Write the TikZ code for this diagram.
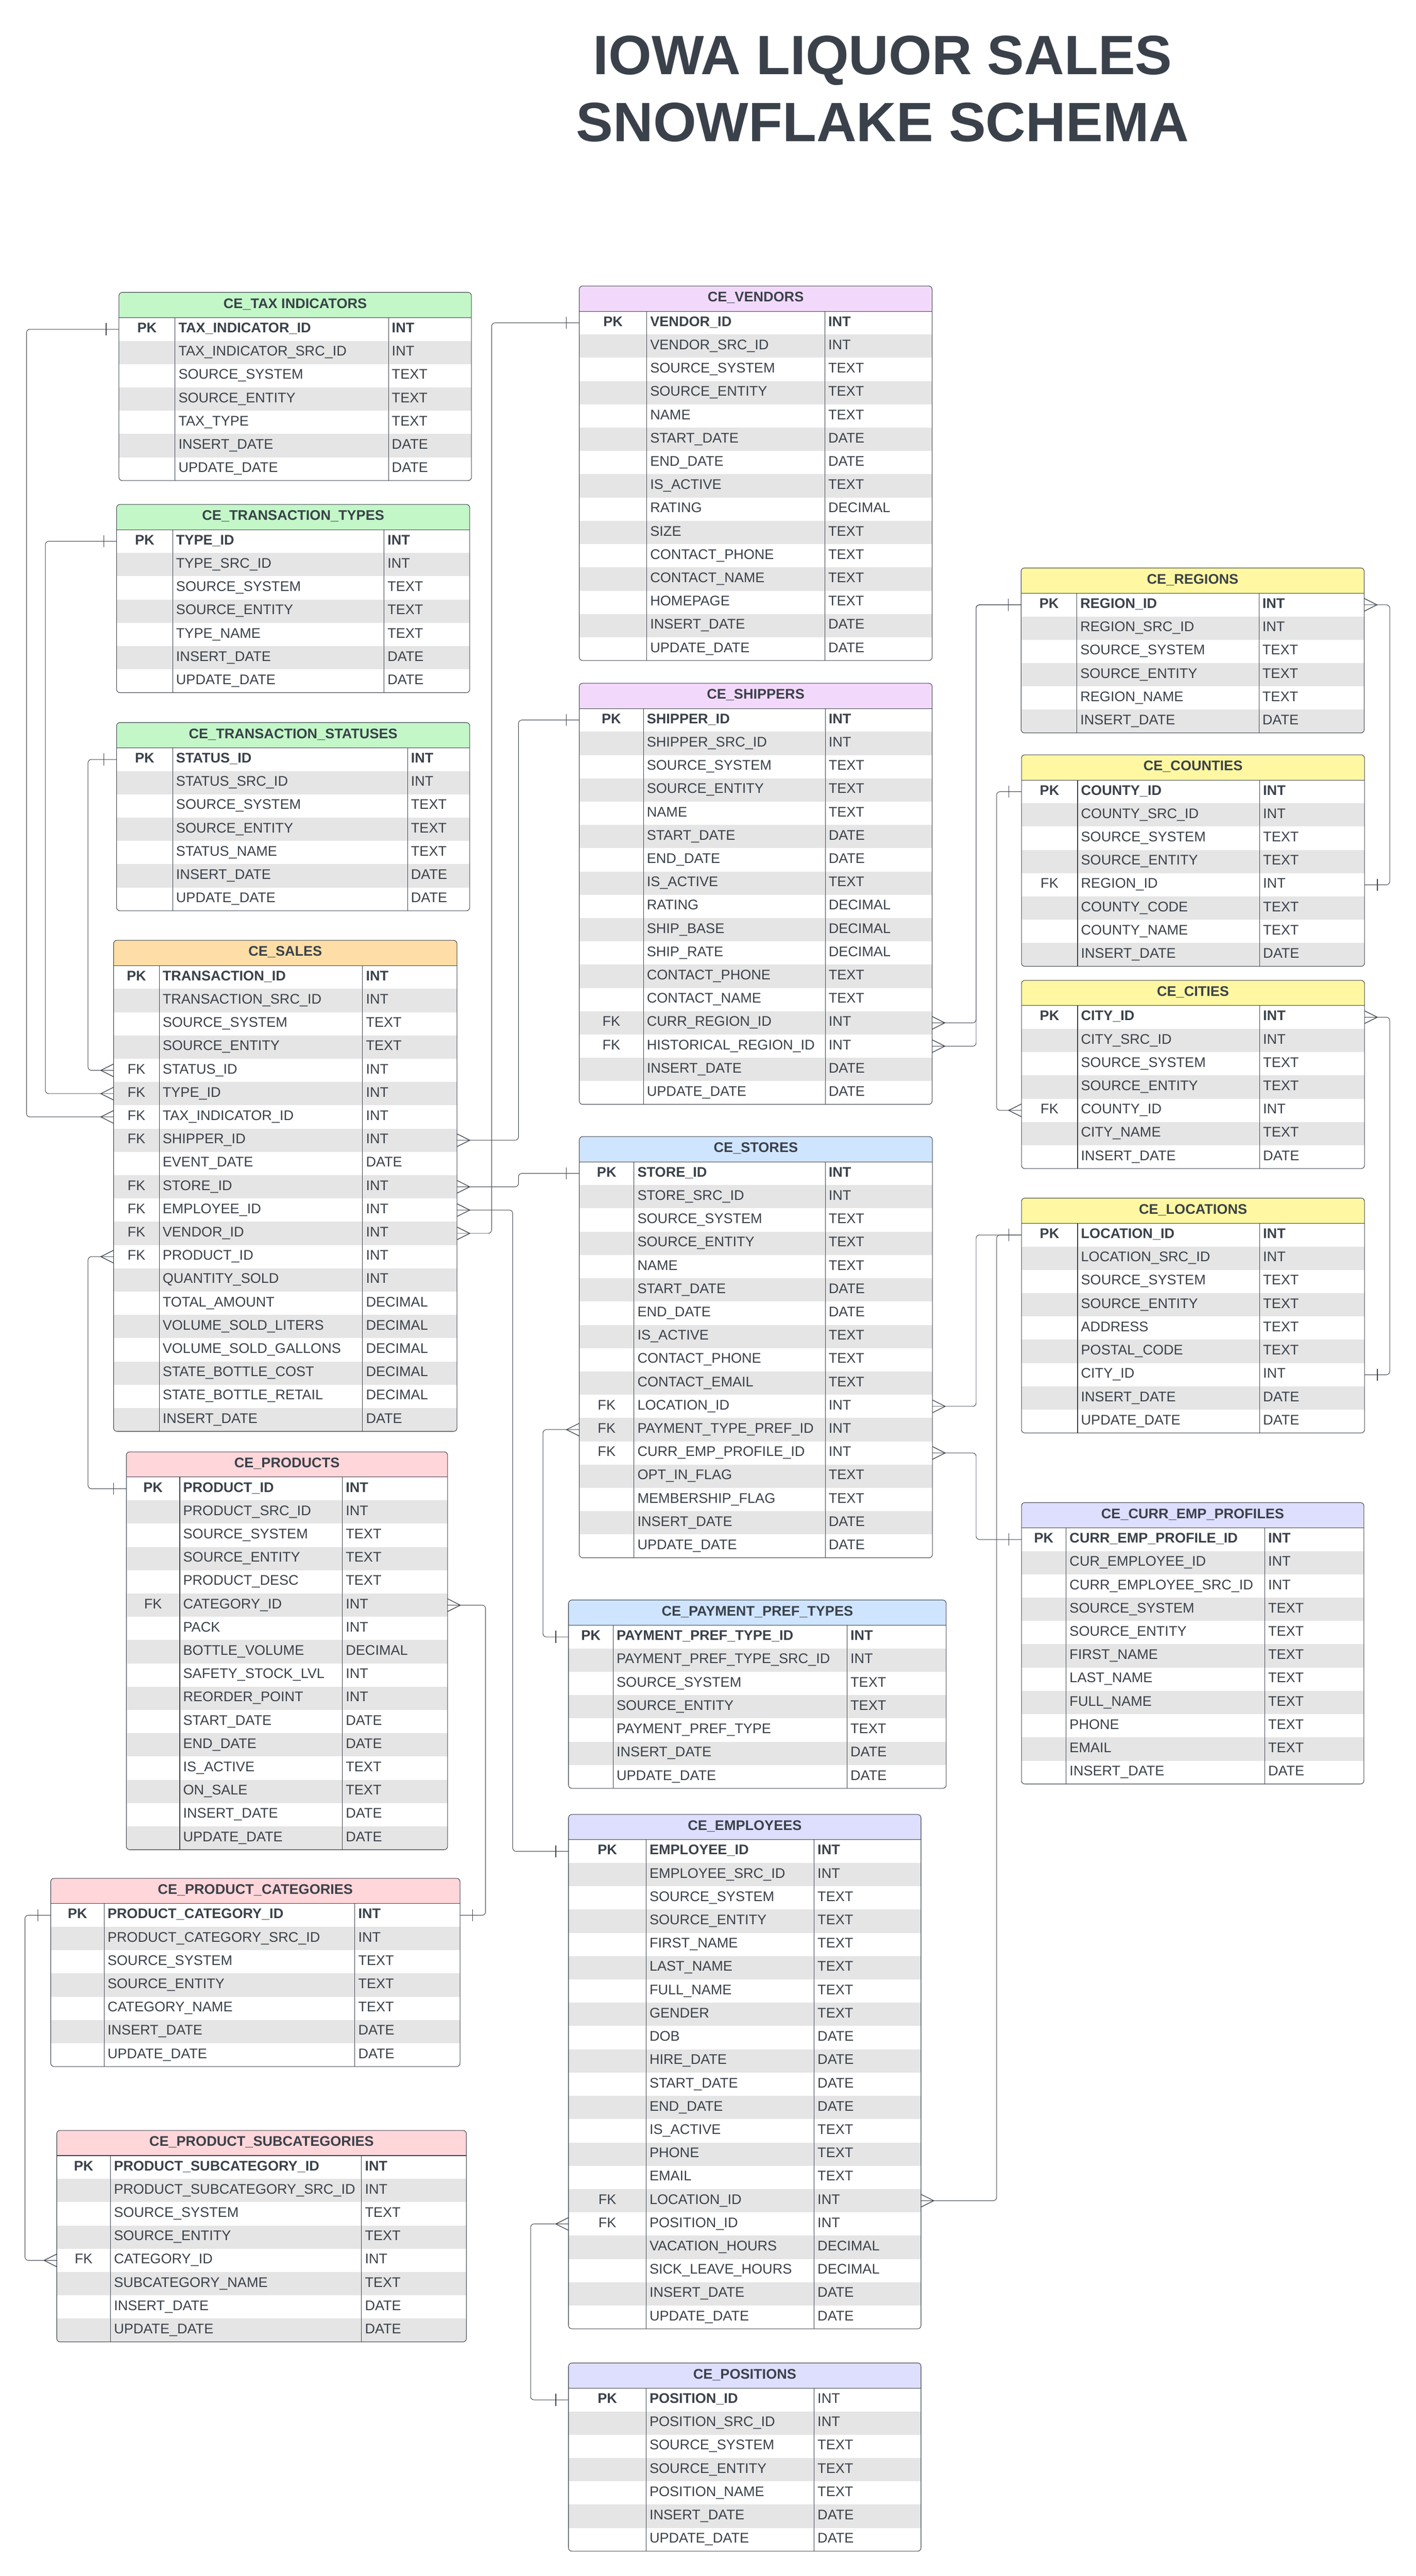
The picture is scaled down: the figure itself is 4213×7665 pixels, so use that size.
\documentclass[tikz,border=0pt]{standalone}
\usepackage{fontspec}
\setmainfont{Liberation Sans}
\usetikzlibrary{calc}
\definecolor{ink}{HTML}{3A414A}
\definecolor{rowgray}{HTML}{E5E5E5}
\definecolor{hgreen}{HTML}{C3F7C8}
\definecolor{horange}{HTML}{FFDDA6}
\definecolor{hpink}{HTML}{FFD6D9}
\definecolor{hpurple}{HTML}{F2D9FB}
\definecolor{hblue}{HTML}{CFE4FF}
\definecolor{hyellow}{HTML}{FFF7A1}
\definecolor{hlav}{HTML}{DEDEFF}
\tikzset{
  tblline/.style={draw=ink, line width=1.6pt},
  celltext/.style={inner sep=0pt, text=ink, font=\fontsize{41.5}{41.5}\selectfont},
  hdrtext/.style={inner sep=0pt, text=ink, anchor=base, font=\fontsize{41.5}{41.5}\selectfont\bfseries},
  titletext/.style={inner sep=0pt, text=ink, anchor=base, font=\fontsize{165}{165}\selectfont\bfseries},
  conn/.style={draw=ink, line width=1.5pt, rounded corners=10pt},
  endmark/.style={draw=ink, line width=2pt},
}
\def\rowh{69.3}
\def\baseoff{10}
% #1 id, #2 left, #3 right, #4 top, #5 key divider, #6 type divider, #7 colour, #8 title, #9 rows
\newcommand{\ertable}[9]{%
  \foreach \erq [count=\erc] in {#9} {\xdef\ernrows{\erc}}%
  \pgfmathsetmacro{\erHB}{#4+75}%
  \pgfmathsetmacro{\erB}{\erHB+\ernrows*\rowh}%
  \begin{scope}
    \clip[rounded corners=10pt] (#2,#4) rectangle (#3,\erB);
    \fill[white] (#2,#4) rectangle (#3,\erB);
    \fill[#7] (#2,#4) rectangle (#3,\erHB);
    \foreach \erq [count=\eri] in {#9} {%
      \ifodd\eri\else
        \fill[rowgray] (#2,{\erHB+(\eri-1)*\rowh}) rectangle (#3,{\erHB+\eri*\rowh});
      \fi}
  \end{scope}
  \draw[tblline] (#2,\erHB) -- (#3,\erHB);
  \draw[tblline] (#5,\erHB) -- (#5,\erB);
  \draw[tblline] (#6,\erHB) -- (#6,\erB);
  \draw[tblline, rounded corners=10pt] (#2,#4) rectangle (#3,\erB);
  \node[hdrtext] (#1) at ({(#2+#3)/2},{#4+47}) {#8};
  \foreach \colk/\coln/\colt [count=\eri] in {#9} {%
    \pgfmathsetmacro{\yc}{\erHB+(\eri-0.5)*\rowh}
    \coordinate (#1-\eri-w) at (#2,\yc);
    \coordinate (#1-\eri-e) at (#3,\yc);
    \ifnum\eri=1 \def\fw{\bfseries}\else\def\fw{}\fi
    \node[celltext, anchor=base] (#1-\eri-k) at ({(#2+#5)/2},{\yc+\baseoff}) {\fw\colk};
    \node[celltext, anchor=base west] (#1-\eri-n) at ({#5+10},{\yc+\baseoff}) {\fw\coln};
    \node[celltext, anchor=base west] (#1-\eri-t) at ({#6+10},{\yc+\baseoff}) {\fw\colt};
  }%
}
% crow's foot and single bar at a table edge; #2 = +38 (right side) or -38 (left side)
\newcommand{\crowfoot}[2]{\draw[endmark] ($(#1)+(0,-19)$) -- ($(#1)+(#2,0)$) -- ($(#1)+(0,19)$);}
\newcommand{\onebar}[2]{\draw[endmark] ($(#1)+(#2,-18)$) -- ($(#1)+(#2,18)$);}
\begin{document}
\begin{tikzpicture}[x=1pt,y=-1pt]
\useasboundingbox (0,0) rectangle (4213,7665);
\fill[white] (0,0) rectangle (4213,7665);

\node[titletext] (title1) at (2627,221) {IOWA LIQUOR SALES};
\node[titletext] (title2) at (2627,421) {SNOWFLAKE SCHEMA};

% ---------------- left column
\ertable{tax}{354}{1403}{870}{521}{1156}{hgreen}{CE\_TAX INDICATORS}{
PK/TAX\_INDICATOR\_ID/INT, {}/TAX\_INDICATOR\_SRC\_ID/INT, {}/SOURCE\_SYSTEM/TEXT, {}/SOURCE\_ENTITY/TEXT,
{}/TAX\_TYPE/TEXT, {}/INSERT\_DATE/DATE, {}/UPDATE\_DATE/DATE}

\ertable{ttypes}{347}{1398}{1501}{514}{1143}{hgreen}{CE\_TRANSACTION\_TYPES}{
PK/TYPE\_ID/INT, {}/TYPE\_SRC\_ID/INT, {}/SOURCE\_SYSTEM/TEXT, {}/SOURCE\_ENTITY/TEXT,
{}/TYPE\_NAME/TEXT, {}/INSERT\_DATE/DATE, {}/UPDATE\_DATE/DATE}

\ertable{tstat}{347}{1398}{2150}{514}{1213}{hgreen}{CE\_TRANSACTION\_STATUSES}{
PK/STATUS\_ID/INT, {}/STATUS\_SRC\_ID/INT, {}/SOURCE\_SYSTEM/TEXT, {}/SOURCE\_ENTITY/TEXT,
{}/STATUS\_NAME/TEXT, {}/INSERT\_DATE/DATE, {}/UPDATE\_DATE/DATE}

\ertable{sales}{338}{1360}{2798}{474}{1079}{horange}{CE\_SALES}{
PK/TRANSACTION\_ID/INT, {}/TRANSACTION\_SRC\_ID/INT, {}/SOURCE\_SYSTEM/TEXT, {}/SOURCE\_ENTITY/TEXT,
FK/STATUS\_ID/INT, FK/TYPE\_ID/INT, FK/TAX\_INDICATOR\_ID/INT, FK/SHIPPER\_ID/INT,
{}/EVENT\_DATE/DATE, FK/STORE\_ID/INT, FK/EMPLOYEE\_ID/INT, FK/VENDOR\_ID/INT, FK/PRODUCT\_ID/INT,
{}/QUANTITY\_SOLD/INT, {}/TOTAL\_AMOUNT/DECIMAL, {}/VOLUME\_SOLD\_LITERS/DECIMAL,
{}/VOLUME\_SOLD\_GALLONS/DECIMAL, {}/STATE\_BOTTLE\_COST/DECIMAL, {}/STATE\_BOTTLE\_RETAIL/DECIMAL,
{}/INSERT\_DATE/DATE}

\ertable{prod}{376}{1332}{4320}{535}{1019}{hpink}{CE\_PRODUCTS}{
PK/PRODUCT\_ID/INT, {}/PRODUCT\_SRC\_ID/INT, {}/SOURCE\_SYSTEM/TEXT, {}/SOURCE\_ENTITY/TEXT,
{}/PRODUCT\_DESC/TEXT, FK/CATEGORY\_ID/INT, {}/PACK/INT, {}/BOTTLE\_VOLUME/DECIMAL,
{}/SAFETY\_STOCK\_LVL/INT, {}/REORDER\_POINT/INT, {}/START\_DATE/DATE, {}/END\_DATE/DATE,
{}/IS\_ACTIVE/TEXT, {}/ON\_SALE/TEXT, {}/INSERT\_DATE/DATE, {}/UPDATE\_DATE/DATE}

\ertable{pcat}{151}{1369}{5589}{310}{1056}{hpink}{CE\_PRODUCT\_CATEGORIES}{
PK/PRODUCT\_CATEGORY\_ID/INT, {}/PRODUCT\_CATEGORY\_SRC\_ID/INT, {}/SOURCE\_SYSTEM/TEXT,
{}/SOURCE\_ENTITY/TEXT, {}/CATEGORY\_NAME/TEXT, {}/INSERT\_DATE/DATE, {}/UPDATE\_DATE/DATE}

\ertable{psub}{169}{1388}{6339}{329}{1076}{hpink}{CE\_PRODUCT\_SUBCATEGORIES}{
PK/PRODUCT\_SUBCATEGORY\_ID/INT, {}/PRODUCT\_SUBCATEGORY\_SRC\_ID/INT, {}/SOURCE\_SYSTEM/TEXT,
{}/SOURCE\_ENTITY/TEXT, FK/CATEGORY\_ID/INT, {}/SUBCATEGORY\_NAME/TEXT, {}/INSERT\_DATE/DATE,
{}/UPDATE\_DATE/DATE}

% ---------------- middle column
\ertable{vend}{1724}{2774}{851}{1925}{2455}{hpurple}{CE\_VENDORS}{
PK/VENDOR\_ID/INT, {}/VENDOR\_SRC\_ID/INT, {}/SOURCE\_SYSTEM/TEXT, {}/SOURCE\_ENTITY/TEXT,
{}/NAME/TEXT, {}/START\_DATE/DATE, {}/END\_DATE/DATE, {}/IS\_ACTIVE/TEXT, {}/RATING/DECIMAL,
{}/SIZE/TEXT, {}/CONTACT\_PHONE/TEXT, {}/CONTACT\_NAME/TEXT, {}/HOMEPAGE/TEXT,
{}/INSERT\_DATE/DATE, {}/UPDATE\_DATE/DATE}

\ertable{ship}{1724}{2774}{2033}{1915}{2456}{hpurple}{CE\_SHIPPERS}{
PK/SHIPPER\_ID/INT, {}/SHIPPER\_SRC\_ID/INT, {}/SOURCE\_SYSTEM/TEXT, {}/SOURCE\_ENTITY/TEXT,
{}/NAME/TEXT, {}/START\_DATE/DATE, {}/END\_DATE/DATE, {}/IS\_ACTIVE/TEXT, {}/RATING/DECIMAL,
{}/SHIP\_BASE/DECIMAL, {}/SHIP\_RATE/DECIMAL, {}/CONTACT\_PHONE/TEXT, {}/CONTACT\_NAME/TEXT,
FK/CURR\_REGION\_ID/INT, FK/HISTORICAL\_REGION\_ID/INT, {}/INSERT\_DATE/DATE, {}/UPDATE\_DATE/DATE}

\ertable{stores}{1724}{2775}{3382}{1887}{2456}{hblue}{CE\_STORES}{
PK/STORE\_ID/INT, {}/STORE\_SRC\_ID/INT, {}/SOURCE\_SYSTEM/TEXT, {}/SOURCE\_ENTITY/TEXT,
{}/NAME/TEXT, {}/START\_DATE/DATE, {}/END\_DATE/DATE, {}/IS\_ACTIVE/TEXT, {}/CONTACT\_PHONE/TEXT,
{}/CONTACT\_EMAIL/TEXT, FK/LOCATION\_ID/INT, FK/PAYMENT\_TYPE\_PREF\_ID/INT,
FK/CURR\_EMP\_PROFILE\_ID/INT, {}/OPT\_IN\_FLAG/TEXT, {}/MEMBERSHIP\_FLAG/TEXT,
{}/INSERT\_DATE/DATE, {}/UPDATE\_DATE/DATE}

\ertable{pay}{1692}{2816}{4761}{1825}{2521}{hblue}{CE\_PAYMENT\_PREF\_TYPES}{
PK/PAYMENT\_PREF\_TYPE\_ID/INT, {}/PAYMENT\_PREF\_TYPE\_SRC\_ID/INT, {}/SOURCE\_SYSTEM/TEXT,
{}/SOURCE\_ENTITY/TEXT, {}/PAYMENT\_PREF\_TYPE/TEXT, {}/INSERT\_DATE/DATE, {}/UPDATE\_DATE/DATE}

\ertable{emp}{1692}{2741}{5399}{1923}{2423}{hlav}{CE\_EMPLOYEES}{
PK/EMPLOYEE\_ID/INT, {}/EMPLOYEE\_SRC\_ID/INT, {}/SOURCE\_SYSTEM/TEXT, {}/SOURCE\_ENTITY/TEXT,
{}/FIRST\_NAME/TEXT, {}/LAST\_NAME/TEXT, {}/FULL\_NAME/TEXT, {}/GENDER/TEXT, {}/DOB/DATE,
{}/HIRE\_DATE/DATE, {}/START\_DATE/DATE, {}/END\_DATE/DATE, {}/IS\_ACTIVE/TEXT, {}/PHONE/TEXT,
{}/EMAIL/TEXT, FK/LOCATION\_ID/INT, FK/POSITION\_ID/INT, {}/VACATION\_HOURS/DECIMAL,
{}/SICK\_LEAVE\_HOURS/DECIMAL, {}/INSERT\_DATE/DATE, {}/UPDATE\_DATE/DATE}

\ertable{pos}{1692}{2741}{7031}{1923}{2423}{hlav}{CE\_POSITIONS}{
PK/POSITION\_ID/\mdseries INT, {}/POSITION\_SRC\_ID/INT, {}/SOURCE\_SYSTEM/TEXT,
{}/SOURCE\_ENTITY/TEXT, {}/POSITION\_NAME/TEXT, {}/INSERT\_DATE/DATE, {}/UPDATE\_DATE/DATE}

% ---------------- right column
\ertable{reg}{3039}{4060}{1690}{3205}{3747}{hyellow}{CE\_REGIONS}{
PK/REGION\_ID/INT, {}/REGION\_SRC\_ID/INT, {}/SOURCE\_SYSTEM/TEXT, {}/SOURCE\_ENTITY/TEXT,
{}/REGION\_NAME/TEXT, {}/INSERT\_DATE/DATE}

\ertable{cty}{3040}{4061}{2246}{3207}{3749}{hyellow}{CE\_COUNTIES}{
PK/COUNTY\_ID/INT, {}/COUNTY\_SRC\_ID/INT, {}/SOURCE\_SYSTEM/TEXT, {}/SOURCE\_ENTITY/TEXT,
FK/REGION\_ID/INT, {}/COUNTY\_CODE/TEXT, {}/COUNTY\_NAME/TEXT, {}/INSERT\_DATE/DATE}

\ertable{cit}{3040}{4061}{2917}{3207}{3749}{hyellow}{CE\_CITIES}{
PK/CITY\_ID/INT, {}/CITY\_SRC\_ID/INT, {}/SOURCE\_SYSTEM/TEXT, {}/SOURCE\_ENTITY/TEXT,
FK/COUNTY\_ID/INT, {}/CITY\_NAME/TEXT, {}/INSERT\_DATE/DATE}

\ertable{loc}{3040}{4061}{3565}{3207}{3749}{hyellow}{CE\_LOCATIONS}{
PK/LOCATION\_ID/INT, {}/LOCATION\_SRC\_ID/INT, {}/SOURCE\_SYSTEM/TEXT, {}/SOURCE\_ENTITY/TEXT,
{}/ADDRESS/TEXT, {}/POSTAL\_CODE/TEXT, {}/CITY\_ID/INT, {}/INSERT\_DATE/DATE, {}/UPDATE\_DATE/DATE}

\ertable{cep}{3040}{4059}{4471}{3173}{3764}{hlav}{CE\_CURR\_EMP\_PROFILES}{
PK/CURR\_EMP\_PROFILE\_ID/INT, {}/CUR\_EMPLOYEE\_ID/INT, {}/CURR\_EMPLOYEE\_SRC\_ID/INT,
{}/SOURCE\_SYSTEM/TEXT, {}/SOURCE\_ENTITY/TEXT, {}/FIRST\_NAME/TEXT, {}/LAST\_NAME/TEXT,
{}/FULL\_NAME/TEXT, {}/PHONE/TEXT, {}/EMAIL/TEXT, {}/INSERT\_DATE/DATE}

% ---------------- connector lanes (x positions of vertical runs)
\coordinate (laneA) at (79,0);
\coordinate (laneB) at (135,0);
\coordinate (laneC) at (262,0);
\coordinate (laneD) at (74.5,0);
\coordinate (laneE) at (1463,0);
\coordinate (laneF) at (1526,0);
\coordinate (laneG) at (1543,0);
\coordinate (laneH) at (1445,0);
\coordinate (laneI) at (1616,0);
\coordinate (laneJ) at (1579,0);
\coordinate (laneK) at (2905,0);
\coordinate (laneL) at (2966,0);
\coordinate (laneN) at (4136,0);

% ---------------- connectors
\draw[conn] (tax-1-w) -- (tax-1-w -| laneA) -- (laneA |- sales-7-w) -- (sales-7-w);
\onebar{tax-1-w}{-38} \crowfoot{sales-7-w}{-38}

\draw[conn] (ttypes-1-w) -- (ttypes-1-w -| laneB) -- (laneB |- sales-6-w) -- (sales-6-w);
\onebar{ttypes-1-w}{-38} \crowfoot{sales-6-w}{-38}

\draw[conn] (tstat-1-w) -- (tstat-1-w -| laneC) -- (laneC |- sales-5-w) -- (sales-5-w);
\onebar{tstat-1-w}{-38} \crowfoot{sales-5-w}{-38}

\draw[conn] (sales-13-w) -- (sales-13-w -| laneC) -- (laneC |- prod-1-w) -- (prod-1-w);
\crowfoot{sales-13-w}{-38} \onebar{prod-1-w}{-38}

\draw[conn] (sales-8-e) -- (sales-8-e -| laneG) -- (laneG |- ship-1-w) -- (ship-1-w);
\crowfoot{sales-8-e}{38} \onebar{ship-1-w}{-38}

\draw[conn] (sales-10-e) -- (sales-10-e -| laneG) -- (laneG |- stores-1-w) -- (stores-1-w);
\crowfoot{sales-10-e}{38} \onebar{stores-1-w}{-38}

\draw[conn] (sales-11-e) -- (sales-11-e -| laneF) -- (laneF |- emp-1-w) -- (emp-1-w);
\crowfoot{sales-11-e}{38} \onebar{emp-1-w}{-38}

\draw[conn] (sales-12-e) -- (sales-12-e -| laneE) -- (laneE |- vend-1-w) -- (vend-1-w);
\crowfoot{sales-12-e}{38} \onebar{vend-1-w}{-38}

\draw[conn] (prod-6-e) -- (prod-6-e -| laneH) -- (laneH |- pcat-1-e) -- (pcat-1-e);
\crowfoot{prod-6-e}{38} \onebar{pcat-1-e}{38}

\draw[conn] (pcat-1-w) -- (pcat-1-w -| laneD) -- (laneD |- psub-5-w) -- (psub-5-w);
\onebar{pcat-1-w}{-38} \crowfoot{psub-5-w}{-38}

\draw[conn] (stores-12-w) -- (stores-12-w -| laneI) -- (laneI |- pay-1-w) -- (pay-1-w);
\crowfoot{stores-12-w}{-38} \onebar{pay-1-w}{-38}

\draw[conn] (stores-11-e) -- (stores-11-e -| laneK) -- (laneK |- loc-1-w) -- (loc-1-w);
\crowfoot{stores-11-e}{38}

\draw[conn] (stores-13-e) -- (stores-13-e -| laneK) -- (laneK |- cep-1-w) -- (cep-1-w);
\crowfoot{stores-13-e}{38} \onebar{cep-1-w}{-38}

\draw[conn] (emp-16-e) -- (emp-16-e -| laneL) -- (laneL |- loc-1-w) -- (loc-1-w);
\crowfoot{emp-16-e}{38} \onebar{loc-1-w}{-38}

\draw[conn] (emp-17-w) -- (emp-17-w -| laneJ) -- (laneJ |- pos-1-w) -- (pos-1-w);
\crowfoot{emp-17-w}{-38} \onebar{pos-1-w}{-38}

\draw[conn] (ship-14-e) -- (ship-14-e -| laneK) -- (laneK |- reg-1-w) -- (reg-1-w);
\draw[conn] (ship-15-e) -- (ship-15-e -| laneK) -- (laneK |- reg-1-w) -- (reg-1-w);
\crowfoot{ship-14-e}{38} \crowfoot{ship-15-e}{38} \onebar{reg-1-w}{-38}

\draw[conn] (reg-1-e) -- (reg-1-e -| laneN) -- (laneN |- cty-5-e) -- (cty-5-e);
\crowfoot{reg-1-e}{38} \onebar{cty-5-e}{38}

\draw[conn] (cty-1-w) -- (cty-1-w -| laneL) -- (laneL |- cit-5-w) -- (cit-5-w);
\onebar{cty-1-w}{-38} \crowfoot{cit-5-w}{-38}

\draw[conn] (cit-1-e) -- (cit-1-e -| laneN) -- (laneN |- loc-7-e) -- (loc-7-e);
\crowfoot{cit-1-e}{38} \onebar{loc-7-e}{38}
\end{tikzpicture}
\end{document}
